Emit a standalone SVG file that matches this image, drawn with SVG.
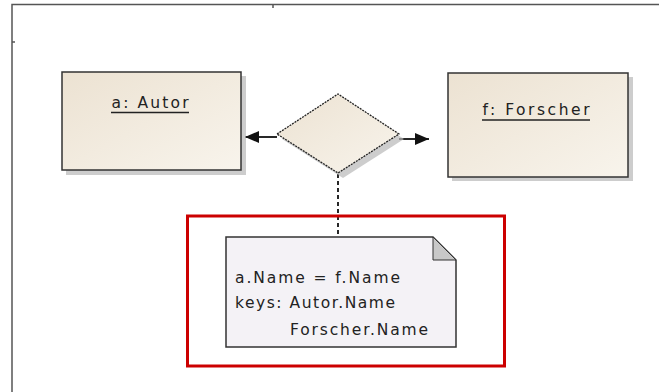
<svg xmlns="http://www.w3.org/2000/svg" width="659" height="392" viewBox="0 0 659 392">
<style>
.frame{fill:none;stroke:#555;stroke-width:1.5}
.box{stroke:#333;stroke-width:1.5}
.shadow{fill:#b8b8b8;opacity:0.7}
.lbl{font-family:"DejaVu Sans",Verdana,sans-serif;font-size:15.5px;fill:#222}
.conn{stroke:#111;stroke-width:1.8;fill:none}
</style>
<defs>
<linearGradient id="beige" x1="0" y1="0" x2="1" y2="1">
<stop offset="0" stop-color="#ece2d2"/>
<stop offset="1" stop-color="#f8f4ec"/>
</linearGradient>
<marker id="arr" viewBox="0 0 14 12" refX="14" refY="6" markerWidth="14" markerHeight="12" markerUnits="userSpaceOnUse" orient="auto">
<path d="M0,0 L14,6 L0,12 z" fill="#111"/>
</marker>
</defs>
<rect width="659" height="392" fill="#fff"/>
<g id="frame">
<path class="frame" d="M12,392 V4.5 H659"/>
<path class="frame" d="M273,4 V8 M12,42 H15"/>
</g>
<g id="connectors">
<line class="conn" x1="277" y1="137" x2="245" y2="137" marker-end="url(#arr)"/>
<line class="conn" x1="399" y1="139" x2="429" y2="139" marker-end="url(#arr)"/>
<line class="conn" x1="338" y1="174" x2="338" y2="237" stroke-dasharray="4,3"/>
</g>
<g id="autor">
<rect class="shadow" x="66" y="76" width="180" height="99"/>
<rect class="box" x="62" y="72" width="179" height="98" fill="url(#beige)"/>
<text class="lbl" x="150" y="108" text-anchor="middle" textLength="77" lengthAdjust="spacing">a: Autor</text>
<line x1="111" y1="112.5" x2="189" y2="112.5" stroke="#222" stroke-width="1.3"/>
</g>
<g id="forscher">
<rect class="shadow" x="452" y="77" width="181" height="104"/>
<rect class="box" x="448" y="73" width="180" height="104" fill="url(#beige)"/>
<text class="lbl" x="536" y="115" text-anchor="middle" textLength="107" lengthAdjust="spacing">f: Forscher</text>
<line x1="482" y1="120" x2="590" y2="120" stroke="#222" stroke-width="1.3"/>
</g>
<g id="join">
<polygon class="shadow" points="282,139 343,99 404,139 343,178"/>
<polygon points="277,134 338,94 399,134 338,173" fill="url(#beige)" stroke="#222" stroke-width="1.3" stroke-dasharray="2,1"/>
</g>
<g id="highlight">
<rect x="187.5" y="216" width="317" height="150" fill="none" stroke="#cc0000" stroke-width="3"/>
</g>
<g id="note">
<path d="M226,237 H433 L456,260 V347 H226 Z" fill="#f4f2f6" stroke="#333" stroke-width="1.5"/>
<path d="M433,237 V260 H456 Z" fill="#c8c8c8" stroke="#333" stroke-width="1"/>
<text class="lbl" x="235" y="283" textLength="165" lengthAdjust="spacing">a.Name = f.Name</text>
<text class="lbl" x="235" y="308" textLength="160" lengthAdjust="spacing">keys: Autor.Name</text>
<text class="lbl" x="290" y="335" textLength="138" lengthAdjust="spacing">Forscher.Name</text>
</g>
</svg>
